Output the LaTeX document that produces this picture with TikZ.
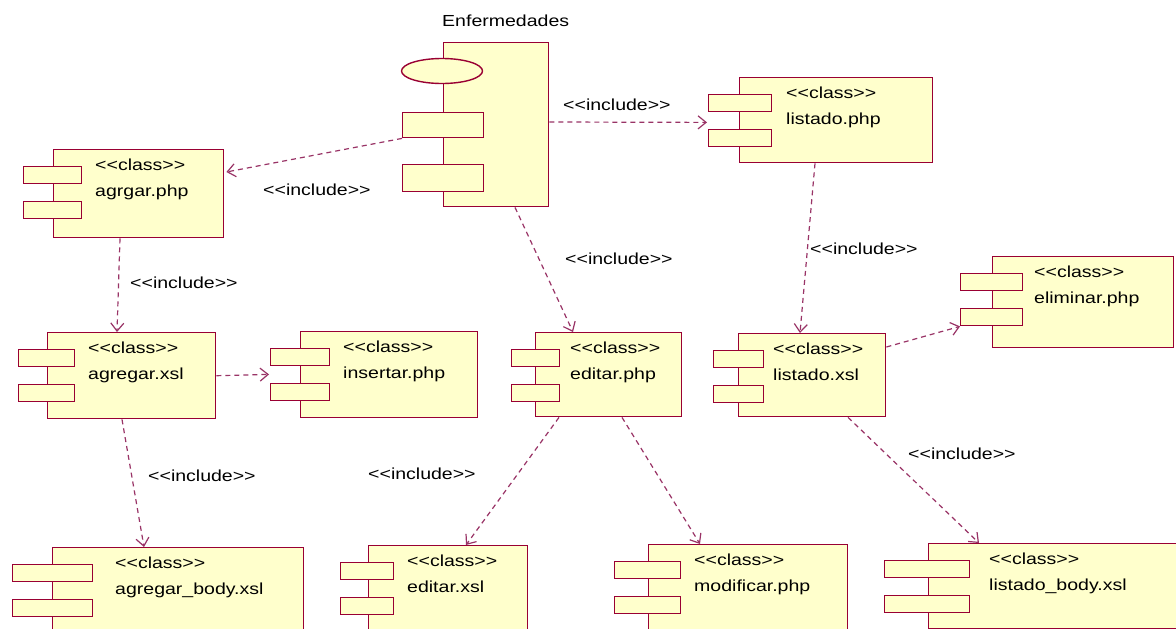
\documentclass[tikz,border=0pt]{standalone}
\usepackage{fontspec}
\usetikzlibrary{arrows.meta,calc,shapes.geometric}
\newfontfamily\umlfont{Liberation Sans}[FakeStretch=1.22]
\definecolor{umlred}{RGB}{153,0,51}
\definecolor{umlline}{RGB}{153,51,102}
\definecolor{umlfill}{RGB}{255,255,204}

\tikzset{
  compbox/.style={rectangle, draw=umlred, fill=umlfill, line width=1.4pt, inner sep=0pt},
  comprect/.style={rectangle, draw=umlred, fill=umlfill, line width=1.4pt, inner sep=0pt, minimum height=17pt},
  txt/.style={anchor=base west, inner sep=0pt, text=black, font=\umlfont\fontsize{16}{19}\selectfont},
  dep/.style={draw=umlline, line width=1.2pt, dash pattern=on 5pt off 4pt,
    -{Straight Barb[length=8pt, width=13pt, line width=1.2pt]}},
}

% component: id, left, top, width, height, port left, port width, text x, file name
\newcommand{\umlcomp}[9]{%
  \node[compbox, minimum width=#4pt, minimum height=#5pt, anchor=north west] (#1) at (#2,#3) {};
  \node[comprect, minimum width=#7pt, anchor=north west] (#1-r1) at (#6,#3+17) {};
  \node[comprect, minimum width=#7pt, anchor=north west] (#1-r2) at (#6,#3+52) {};
  \node[txt] (#1-st) at (#8,#3+21) {<<class>>};
  \node[txt] (#1-nm) at (#8,#3+47) {#9};
}

\begin{document}
\begin{tikzpicture}[x=1pt, y=-1pt]
\useasboundingbox (0,0) rectangle (1176,629);
\fill[white] (0,0) rectangle (1176,629);
\clip (0,0) rectangle (1176,629);

% main component with its interface symbols
\node[txt] (enf-title) at (442,27) {Enfermedades};
\node[compbox, minimum width=105pt, minimum height=164pt, anchor=north west] (enf) at (443,42) {};
\node[ellipse, draw=umlred, fill=umlfill, line width=1.4pt, inner sep=0pt,
      minimum width=81pt, minimum height=25pt] (enf-e) at (442,71) {};
\node[comprect, minimum width=81pt, minimum height=25pt, anchor=north west] (enf-r1) at (402,112) {};
\node[comprect, minimum width=81pt, minimum height=27pt, anchor=north west] (enf-r2) at (402,164) {};

% class components
\umlcomp{agrgar}{53}{149}{170}{88}{23}{58}{95}{agrgar.php}
\umlcomp{axsl}{47}{332}{168}{86}{18}{56}{88}{agregar.xsl}
\umlcomp{ins}{300}{331}{177}{86}{270}{59}{343}{insertar.php}
\umlcomp{ephp}{535}{332}{146}{84}{511}{48}{570}{editar.php}
\umlcomp{lphp}{739}{77}{193}{85}{708}{63}{786}{listado.php}
\umlcomp{lxsl}{738}{333}{147}{83}{713}{50}{773}{listado.xsl}
\umlcomp{elim}{992}{256}{181}{91}{960}{62}{1034}{eliminar.php}
\umlcomp{abody}{52}{547}{251}{86}{12}{80}{115}{agregar\_body.xsl}
\umlcomp{exsl}{368}{545}{159}{86}{340}{53}{407}{editar.xsl}
\umlcomp{mod}{648}{544}{199}{86}{614}{66}{694}{modificar.php}
\umlcomp{lbody}{928}{543}{260}{85}{884}{85}{989}{listado\_body.xsl}

% include dependencies
\draw[dep] (enf-r1.south west) -- ($(agrgar.north east)+(2,23)$);
\draw[dep] ($(enf.north east)+(0,80)$) -- ($(lphp-r1.south west)+(-1,10)$);
\draw[dep] ($(enf.south west)+(72,0)$) -- ($(ephp.north west)+(38,0)$);
\draw[dep] ($(agrgar.south west)+(67,0)$) -- ($(axsl.north west)+(70,0)$);
\draw[dep] (axsl.east) -- ($(ins-r1.south west)+(-1,8)$);
\draw[dep] ($(axsl.south west)+(75,0)$) -- ($(abody.north west)+(92,0)$);
\draw[dep] ($(ephp.south west)+(24,0)$) -- ($(exsl.north west)+(98,0)$);
\draw[dep] ($(ephp.south west)+(87,0)$) -- ($(mod.north west)+(52,0)$);
\draw[dep] ($(lphp.south west)+(76,0)$) -- ($(lxsl.north west)+(62,0)$);
\draw[dep] ($(lxsl.north east)+(0,14)$) -- (elim-r2.south west);
\draw[dep] ($(lxsl.south west)+(110,0)$) -- ($(lbody.north west)+(51,0)$);

% stereotype labels
\node[txt] (inc1) at (563,110) {<<include>>};
\node[txt] (inc2) at (263,195) {<<include>>};
\node[txt] (inc3) at (130,288) {<<include>>};
\node[txt] (inc4) at (565,264) {<<include>>};
\node[txt] (inc5) at (810,254) {<<include>>};
\node[txt] (inc6) at (148,481) {<<include>>};
\node[txt] (inc7) at (368,479) {<<include>>};
\node[txt] (inc8) at (908,459) {<<include>>};
\end{tikzpicture}
\end{document}
